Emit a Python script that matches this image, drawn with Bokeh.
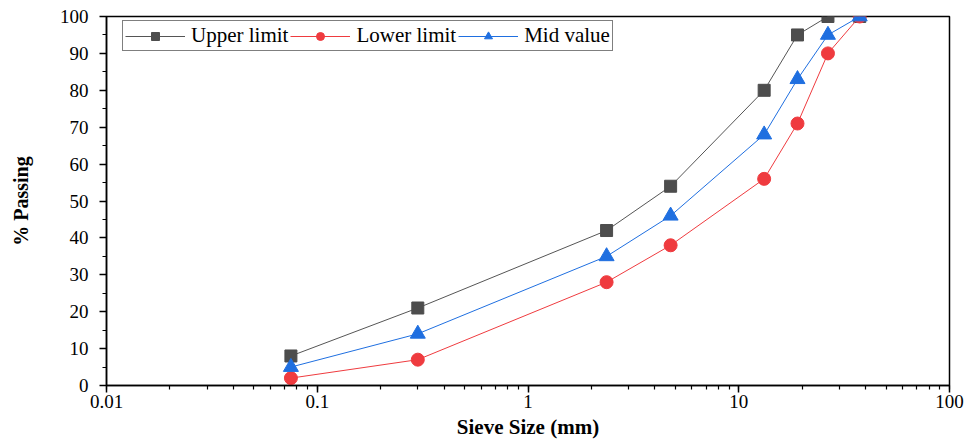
from bokeh.plotting import figure
from bokeh.models import SingleIntervalTicker, LogTicker
from bokeh.embed import file_html
from bokeh.resources import INLINE

sieve = [0.075, 0.3, 2.36, 4.75, 13.2, 19, 26.5, 37.5]
upper = [8, 21, 42, 54, 80, 95, 100, 100]
lower = [2, 7, 28, 38, 56, 71, 90, 100]
mid = [5, 14, 35, 46, 68, 83, 95, 100]

FONT = "Liberation Serif"

p = figure(width=965, height=441, x_axis_type="log", x_range=(0.01, 100), y_range=(0, 100),
           output_backend="svg", toolbar_location=None,
           min_border_left=106, min_border_right=16, min_border_top=16, min_border_bottom=55)

p.xgrid.visible = False
p.ygrid.visible = False
p.outline_line_color = "black"
p.outline_line_width = 1.5
p.background_fill_color = "white"
p.border_fill_color = "white"

gray, red, blue = "#4d4d4d", "#ef3b3f", "#1f6fe0"

p.line(sieve, upper, line_color="#555555", line_width=1, legend_label="Upper limit")
p.scatter(sieve, upper, marker="square", size=12, fill_color=gray, line_color=gray, legend_label="Upper limit")
p.line(sieve, lower, line_color=red, line_width=1, legend_label="Lower limit")
p.scatter(sieve, lower, marker="circle", size=13, fill_color=red, line_color=red, legend_label="Lower limit")
p.line(sieve, mid, line_color=blue, line_width=1, legend_label="Mid value")
p.scatter(sieve, mid, marker="triangle", size=15, fill_color=blue, line_color=blue, legend_label="Mid value")

p.xaxis.ticker = LogTicker(num_minor_ticks=10)
p.xaxis.major_label_overrides = {0.01: "0.01", 0.1: "0.1", 1: "1", 10: "10", 100: "100"}
p.yaxis.ticker = SingleIntervalTicker(interval=10, num_minor_ticks=2)

for ax in (p.xaxis[0], p.yaxis[0]):
    ax.axis_line_width = 1.5
    ax.axis_line_color = "black"
    ax.major_tick_line_color = "black"
    ax.minor_tick_line_color = "black"
    ax.major_tick_line_width = 1.5
    ax.minor_tick_line_width = 1.2
    ax.major_tick_out = 7
    ax.major_tick_in = 0
    ax.minor_tick_out = 4
    ax.minor_tick_in = 0
    ax.major_label_text_font = FONT
    ax.major_label_text_font_size = "19px"
    ax.major_label_text_color = "black"
    ax.axis_label_text_font = FONT
    ax.axis_label_text_font_style = "bold"
    ax.axis_label_text_color = "black"

p.xaxis.axis_label = "Sieve Size (mm)"
p.yaxis.axis_label = "% Passing"
p.xaxis.axis_label_text_font_size = "21px"
p.yaxis.axis_label_text_font_size = "20px"
p.xaxis.major_label_standoff = 2
p.xaxis.axis_label_standoff = 4
p.yaxis.major_label_standoff = 11
p.yaxis.axis_label_standoff = 25

leg = p.legend[0]
leg.orientation = "horizontal"
leg.location = (16, 334)
leg.margin = 0
leg.label_text_font = FONT
leg.label_text_font_size = "21px"
leg.label_text_color = "black"
leg.border_line_color = "black"
leg.border_line_width = 1
leg.background_fill_alpha = 1
leg.padding = 2
leg.spacing = 2
leg.glyph_width = 60
leg.glyph_height = 20
leg.label_standoff = 6
leg.label_height = 20

open("out.html", "w").write(file_html(p, INLINE))
